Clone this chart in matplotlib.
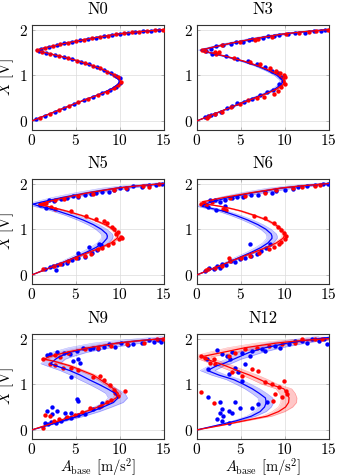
import numpy as np
import matplotlib
matplotlib.use("Agg")
import matplotlib.pyplot as plt

plt.rcParams['font.family'] = 'serif'
plt.rcParams['font.serif'] = ['cmr10', 'DejaVu Serif']
plt.rcParams['mathtext.fontset'] = 'cm'
plt.rcParams['axes.formatter.use_mathtext'] = True
plt.rcParams['axes.unicode_minus'] = False

# response amplitude grid [V], the curves give A_base for each X
X_GRID = [0.0, 0.1, 0.2, 0.3, 0.4, 0.5, 0.6, 0.7, 0.8, 0.85, 0.9, 1.0, 1.1, 1.2,
          1.3, 1.4, 1.45, 1.5, 1.55, 1.6, 1.7, 1.8, 1.9, 1.95, 2.0, 2.05]
# relative width of the uncertainty bands along the grid
BAND_PROFILE = [0, 0.2, 0.4, 0.6, 0.8, 0.9, 1, 1, 1, 1, 1, 1, 1, 1,
                1, 1, 1, 1, 1, 1.3, 1.8, 2.2, 2.5, 2.5, 2.5, 2.5]

TITLES = ['N0', 'N3', 'N5', 'N6', 'N9', 'N12']

# fitted curves A_base(X)
N0_BLUE = [0, 1.3, 2.6, 3.9, 5.2, 6.55, 7.9, 9.05, 9.8, 9.95, 9.9, 9.3, 8.3, 7.0,
           5.45, 3.55, 2.45, 1.35, 0.5, 1.5, 3.8, 6.5, 9.7, 12.0, 15.0, 18.0]
N0_RED = [0, 1.3, 2.6, 3.9, 5.2, 6.6, 8.0, 9.2, 9.95, 10.1, 10.05, 9.4, 8.4, 7.1,
          5.5, 3.6, 2.5, 1.4, 0.5, 1.5, 3.8, 6.5, 9.7, 12.0, 15.0, 18.0]
N3_BLUE = [0, 1.3, 2.6, 3.9, 5.15, 6.45, 7.8, 8.9, 9.6, 9.75, 9.7, 9.1, 8.1, 6.9,
           5.35, 3.5, 2.4, 1.3, 0.45, 1.45, 3.8, 6.5, 9.7, 12.0, 15.0, 18.0]
N3_RED = [0, 1.3, 2.6, 3.9, 5.2, 6.6, 7.95, 9.1, 9.85, 10.0, 9.95, 9.35, 8.35, 7.05,
          5.5, 3.6, 2.5, 1.4, 0.5, 1.5, 3.8, 6.5, 9.7, 12.0, 15.0, 18.0]
N5_BLUE = [0, 1.3, 2.6, 3.85, 5.05, 6.25, 7.3, 8.1, 8.55, 8.6, 8.5, 7.9, 7.0, 5.85,
           4.5, 2.9, 1.95, 0.9, 0.1, 1.2, 3.6, 6.4, 9.6, 12.0, 15.0, 18.0]
N5_RED = [0, 1.3, 2.6, 3.9, 5.2, 6.55, 7.9, 9.0, 9.7, 9.8, 9.75, 9.25, 8.35, 7.15,
          5.7, 3.9, 2.9, 1.8, 0.9, 1.7, 3.9, 6.5, 9.7, 12.0, 15.0, 18.0]
N6_BLUE = [0, 1.3, 2.6, 3.85, 5.05, 6.25, 7.3, 8.1, 8.55, 8.55, 8.45, 7.85, 6.95, 5.8,
           4.45, 2.9, 1.8, 0.6, 0.9, 1.7, 3.7, 6.4, 9.6, 12.0, 15.0, 18.0]
N6_RED = [0, 1.3, 2.6, 3.9, 5.2, 6.55, 7.9, 9.05, 9.8, 9.95, 9.95, 9.6, 8.95, 8.0,
          6.6, 5.0, 3.95, 2.7, 1.1, 0.6, 3.2, 6.2, 9.5, 11.9, 15.0, 18.0]
N9_BLUE = [0, 1.8, 3.6, 5.3, 6.8, 8.1, 9.3, 9.8, 9.5, 9.05, 8.6, 7.6, 6.5, 5.5,
           4.3, 2.8, 2.1, 2.4, 2.7, 3.1, 4.3, 6.6, 9.7, 12.0, 15.0, 18.0]
N9_RED = [0, 1.6, 3.1, 4.6, 6.1, 7.5, 8.7, 9.6, 9.85, 9.6, 9.3, 8.6, 7.8, 7.0,
          5.7, 4.4, 3.5, 2.6, 1.4, 1.9, 3.9, 6.5, 9.7, 12.0, 15.0, 18.0]
N12_BLUE = [0, 2.3, 4.5, 6.2, 7.2, 7.7, 7.9, 7.8, 7.1, 6.7, 6.3, 5.3, 4.2, 2.5,
            1.2, 2.2, 3.0, 3.6, 4.2, 4.8, 6.0, 7.8, 10.3, 12.0, 14.0, 16.0]
N12_RED = [0, 2.8, 5.4, 8.0, 9.3, 10.1, 10.45, 10.5, 10.3, 10.1, 9.9, 8.3, 7.2, 6.0,
           4.6, 3.3, 2.6, 1.8, 1.1, 0.45, 3.0, 5.5, 9.0, 11.5, 15.0, 19.0]

# band half widths [m/s^2] (blue, red)
BAND_HW = [(0.05, 0.05), (0.3, 0.1), (0.65, 0.25), (0.6, 0.25), (1.1, 0.35), (0.85, 0.9)]

# measured points (A_base, X)
N0_BLUE_PTS = [(0.4, 0.03), (1.5, 0.115), (2.6, 0.2), (3.7, 0.285), (4.8, 0.37), (5.9, 0.45),
               (7.0, 0.53), (8.0, 0.6), (8.9, 0.675), (9.6, 0.75), (10.0, 0.82),
               (10.0, 0.93), (9.6, 0.98), (9.0, 1.04), (8.2, 1.115), (7.4, 1.18), (6.5, 1.24),
               (5.6, 1.295), (4.6, 1.347), (3.6, 1.4), (2.6, 1.445), (1.6, 1.49), (0.8, 1.53),
               (1.0, 1.576), (1.9, 1.617), (2.8, 1.657), (3.7, 1.696), (4.6, 1.73), (5.5, 1.763),
               (6.4, 1.796), (7.3, 1.825), (8.2, 1.853), (9.1, 1.881), (10.0, 1.906),
               (10.9, 1.926), (11.8, 1.946), (12.7, 1.962), (13.6, 1.977), (14.5, 1.992)]
N0_RED_PTS = [(0.9, 0.07), (2.0, 0.155), (3.1, 0.24), (4.2, 0.323), (5.3, 0.407), (6.4, 0.486),
              (7.5, 0.565), (8.5, 0.64), (9.3, 0.71), (9.85, 0.78), (10.1, 0.86),
              (9.8, 0.955), (9.3, 1.01), (8.6, 1.08), (7.8, 1.15), (7.0, 1.205), (6.1, 1.262),
              (5.1, 1.32), (4.1, 1.374), (3.1, 1.423), (2.1, 1.467), (1.1, 1.51), (0.55, 1.545),
              (1.45, 1.598), (2.35, 1.637), (3.25, 1.676), (4.15, 1.713), (5.05, 1.746),
              (5.95, 1.78), (6.85, 1.81), (7.75, 1.839), (8.65, 1.867), (9.55, 1.895),
              (10.45, 1.916), (11.35, 1.936), (12.25, 1.954), (13.15, 1.969), (14.05, 1.984),
              (14.9, 1.998)]
N3_BLUE_PTS = [(1.6, 1.58), (2.2, 1.63), (3.0, 1.66), (3.9, 1.69), (4.4, 1.72), (5.2, 1.73),
               (5.9, 1.77), (6.3, 1.79), (7.5, 1.81), (8.1, 1.85), (8.8, 1.86), (9.4, 1.87),
               (10.4, 1.9), (11.2, 1.92), (12.3, 1.93), (13.3, 1.96), (14.1, 1.97), (14.6, 1.98),
               (1.0, 1.52), (1.7, 1.47), (2.1, 1.48), (3.3, 1.43), (4.6, 1.36), (5.8, 1.31),
               (6.8, 1.24), (7.7, 1.17), (8.6, 1.1), (9.2, 1.05), (9.6, 0.97),
               (9.3, 0.8), (8.7, 0.68), (8.0, 0.63), (7.2, 0.57), (6.3, 0.47), (5.4, 0.42),
               (4.6, 0.39), (4.0, 0.32), (3.4, 0.28), (2.7, 0.2), (2.1, 0.16), (1.6, 0.13),
               (0.9, 0.08), (1.3, 0.1)]
N3_RED_PTS = [(0.6, 1.56), (0.9, 1.53), (2.8, 1.66), (4.9, 1.72), (6.6, 1.78), (7.0, 1.8),
              (8.5, 1.84), (10.1, 1.9), (11.6, 1.93), (12.8, 1.94), (13.6, 1.96), (14.9, 1.99),
              (0.8, 1.55), (2.0, 1.5), (2.5, 1.5), (2.2, 1.46), (4.2, 1.38), (6.0, 1.3),
              (7.2, 1.24), (8.3, 1.16), (9.0, 1.09), (9.5, 1.05), (9.9, 1.0), (10.0, 0.95),
              (9.8, 0.88), (10.0, 0.8), (9.6, 0.75), (9.2, 0.66), (8.8, 0.58), (7.6, 0.53),
              (6.9, 0.5), (5.8, 0.45), (4.9, 0.36), (3.9, 0.3), (2.9, 0.2), (2.1, 0.15),
              (1.4, 0.1), (1.1, 0.06)]
N5_BLUE_PTS = [(1.9, 1.64), (2.5, 1.62), (3.3, 1.67), (4.0, 1.69), (4.7, 1.73), (5.2, 1.7),
               (6.0, 1.75), (6.7, 1.78), (7.3, 1.8), (8.0, 1.82), (8.8, 1.82), (9.3, 1.86),
               (10.0, 1.9), (10.8, 1.88), (11.5, 1.94), (12.5, 1.93), (13.3, 1.96), (14.2, 1.97),
               (14.8, 1.99), (0.9, 1.52), (1.6, 1.47), (6.45, 0.6), (5.3, 0.49), (7.6, 0.67),
               (1.5, 0.12), (2.0, 0.18), (2.4, 0.2), (2.9, 0.21), (2.7, 0.1), (3.4, 0.24),
               (4.0, 0.27), (4.6, 0.32), (5.2, 0.36), (6.0, 0.4), (6.8, 0.47), (7.4, 0.55),
               (7.9, 0.65)]
N5_RED_PTS = [(1.2, 1.56), (2.6, 1.63), (3.6, 1.66), (5.3, 1.72), (7.0, 1.78), (9.3, 1.85),
              (10.7, 1.9), (12.7, 1.94), (13.4, 1.92), (14.5, 1.98),
              (0.9, 1.55), (1.6, 1.58), (2.2, 1.48), (2.6, 1.45), (4.5, 1.4), (6.2, 1.3),
              (7.3, 1.23), (8.2, 1.18), (8.6, 1.13), (9.1, 1.05), (9.4, 1.0), (9.8, 0.95),
              (9.6, 0.9), (10.1, 0.83), (9.9, 0.78), (10.3, 0.8),
              (9.2, 0.7), (8.7, 0.66), (8.0, 0.58), (7.5, 0.57), (6.7, 0.46), (6.0, 0.42),
              (5.0, 0.37), (4.1, 0.3), (3.2, 0.24), (2.5, 0.2), (1.3, 0.12)]
N6_BLUE_PTS = [(1.5, 1.64), (2.0, 1.63), (2.6, 1.6), (3.2, 1.65), (4.0, 1.68), (4.6, 1.7),
               (5.3, 1.71), (6.2, 1.75), (7.0, 1.76), (7.8, 1.82), (8.5, 1.8), (9.0, 1.84),
               (10.0, 1.87), (11.0, 1.88), (11.5, 1.92), (12.5, 1.94), (13.5, 1.96),
               (14.4, 1.99), (14.9, 1.98), (1.3, 1.49), (2.2, 1.43), (3.2, 1.51), (6.1, 0.67),
               (0.9, 0.08), (1.4, 0.15), (1.9, 0.13), (2.3, 0.2), (2.6, 0.16), (2.8, 0.24),
               (3.3, 0.21), (3.9, 0.3), (4.3, 0.28), (4.9, 0.35), (5.5, 0.38), (6.2, 0.42),
               (6.8, 0.45), (7.3, 0.52), (7.9, 0.58), (8.3, 0.68)]
N6_RED_PTS = [(0.8, 1.57), (1.7, 1.6), (3.8, 1.69), (5.5, 1.73), (7.8, 1.8), (9.0, 1.86),
              (10.9, 1.91), (12.0, 1.92), (13.5, 1.94), (14.0, 1.97),
              (0.5, 1.55), (1.0, 1.52), (3.0, 1.45), (3.3, 1.42), (6.5, 1.28), (7.8, 1.25),
              (8.8, 1.13), (9.2, 1.05), (9.6, 0.99), (9.9, 0.92), (10.2, 0.85), (10.0, 0.78),
              (9.6, 0.73), (9.3, 0.67), (8.8, 0.62), (8.2, 0.56), (7.1, 0.48), (6.0, 0.42),
              (5.0, 0.38), (3.6, 0.36), (3.8, 0.3), (2.9, 0.2), (2.0, 0.15), (1.2, 0.12),
              (1.0, 0.1)]
N9_BLUE_PTS = [(1.7, 1.64), (2.1, 1.66), (2.8, 1.7), (3.6, 1.69), (4.3, 1.67), (5.1, 1.72),
               (5.8, 1.8), (6.6, 1.77), (7.0, 1.8), (7.5, 1.78), (8.2, 1.82), (8.8, 1.88),
               (9.5, 1.82), (10.2, 1.9), (10.9, 1.86), (11.5, 1.88), (12.5, 1.91), (13.3, 1.96),
               (13.9, 1.93), (14.4, 1.97), (14.7, 1.92), (4.7, 1.51), (5.2, 1.56), (5.5, 1.47),
               (4.5, 1.15), (1.7, 0.42), (2.25, 0.5), (2.25, 0.34), (2.8, 0.42), (3.8, 0.38),
               (4.5, 0.38), (5.1, 0.67), (5.3, 0.63), (1.5, 0.15), (1.8, 0.12), (2.2, 0.18),
               (2.7, 0.15), (3.3, 0.2), (3.9, 0.25), (4.5, 0.25), (5.2, 0.32), (6.0, 0.35),
               (7.0, 0.45), (7.6, 0.5), (8.0, 0.58)]
N9_RED_PTS = [(1.2, 1.55), (2.6, 1.65), (3.2, 1.6), (4.1, 1.69), (6.1, 1.78), (7.5, 1.8),
              (9.0, 1.84), (10.8, 1.88), (12.8, 1.9), (14.3, 1.99), (14.9, 1.98),
              (2.0, 1.45), (2.6, 1.42), (3.5, 1.36), (4.4, 1.35), (5.2, 1.32), (7.0, 1.15),
              (7.8, 1.18), (8.2, 1.1), (8.9, 0.98), (9.3, 0.88), (10.6, 0.85), (9.5, 0.8),
              (9.8, 0.75), (9.0, 0.65), (8.5, 0.6), (7.9, 0.52), (6.6, 0.47), (5.7, 0.4),
              (4.9, 0.33), (4.0, 0.28), (3.1, 0.24), (2.0, 0.3), (1.5, 0.32), (1.3, 0.05),
              (2.5, 0.2)]
N12_BLUE_PTS = [(2.25, 1.74), (1.1, 1.55), (1.3, 1.33), (1.3, 0.71), (2.8, 1.66), (3.4, 1.62),
                (3.8, 1.55), (4.35, 1.36), (3.6, 1.22), (5.1, 1.07), (2.6, 0.6), (2.8, 0.45),
                (2.6, 0.38), (3.6, 0.42), (4.0, 0.38), (4.35, 0.6), (4.9, 0.49), (7.0, 0.56),
                (6.3, 0.49), (2.25, 0.23), (2.8, 0.2), (3.6, 0.16), (5.1, 1.69), (6.3, 1.73),
                (7.4, 1.77), (8.9, 1.84), (10.5, 1.88), (11.2, 1.95), (12.0, 1.95), (13.1, 1.99),
                (13.9, 1.95), (14.5, 1.99), (14.85, 1.88), (5.5, 1.44), (4.7, 1.26), (8.0, 0.6),
                (4.0, 1.7), (6.0, 1.62), (7.8, 1.72), (9.5, 1.8), (12.6, 1.9), (3.0, 0.3)]
N12_RED_PTS = [(0.5, 1.62), (0.9, 1.58), (1.9, 1.55), (2.1, 1.44), (3.6, 1.62), (4.35, 1.69),
               (5.5, 1.77), (6.8, 1.8), (8.2, 1.84), (9.7, 1.88), (11.2, 1.91), (12.0, 1.99),
               (13.5, 1.99), (14.3, 2.0), (6.3, 1.33), (7.8, 1.04), (8.5, 1.0), (8.9, 0.78),
               (9.3, 0.93), (9.9, 1.07), (10.1, 0.85), (10.3, 0.78), (9.7, 0.71), (8.7, 0.64),
               (0.5, 0.82), (1.9, 0.58), (5.1, 1.18), (4.0, 1.26), (1.5, 1.47), (7.0, 1.3)]

CURVES = [(N0_BLUE, N0_RED), (N3_BLUE, N3_RED), (N5_BLUE, N5_RED),
          (N6_BLUE, N6_RED), (N9_BLUE, N9_RED), (N12_BLUE, N12_RED)]
POINTS = [(N0_BLUE_PTS, N0_RED_PTS), (N3_BLUE_PTS, N3_RED_PTS), (N5_BLUE_PTS, N5_RED_PTS),
          (N6_BLUE_PTS, N6_RED_PTS), (N9_BLUE_PTS, N9_RED_PTS), (N12_BLUE_PTS, N12_RED_PTS)]

W, H = 342, 476
fig = plt.figure(figsize=(W / 100, H / 100), dpi=100)

lefts = [32, 197]
tops = [25, 179, 334]
aw, ah = 131.5, 105

xg = np.array(X_GRID)
prof = np.array(BAND_PROFILE)

for i in range(6):
    r, c = divmod(i, 2)
    ax = fig.add_axes([lefts[c] / W, 1 - (tops[r] + ah) / H, aw / W, ah / H])
    blue_a, red_a = CURVES[i]
    hw_b, hw_r = BAND_HW[i]
    for a_vals, hw, col in [(blue_a, hw_b, 'blue'), (red_a, hw_r, 'red')]:
        a_vals = np.array(a_vals)
        lo = a_vals - hw * prof
        hi = a_vals + hw * prof
        ax.fill_betweenx(xg, lo, hi, color=col, alpha=0.22, lw=0, zorder=2)
        ax.plot(lo, xg, color=col, alpha=0.3, lw=0.4, zorder=2)
        ax.plot(hi, xg, color=col, alpha=0.3, lw=0.4, zorder=2)
    bp, rp = POINTS[i]
    ax.scatter([p[0] for p in bp], [p[1] for p in bp], s=10, color='blue', lw=0, zorder=3)
    ax.scatter([p[0] for p in rp], [p[1] for p in rp], s=10, color='red', lw=0, zorder=3)
    ax.plot(blue_a, X_GRID, color='blue', lw=0.9, zorder=4)
    ax.plot(red_a, X_GRID, color='red', lw=0.9, zorder=4)

    ax.set_xlim(0, 15)
    ax.set_ylim(-0.2, 2.1)
    ax.set_xticks([0, 5, 10, 15])
    ax.set_yticks([0, 1, 2])
    ax.grid(True, color='#dcdcdc', lw=0.5, zorder=0)
    ax.set_axisbelow(True)
    ax.tick_params(direction='in', length=2.5, width=0.5, color='#a0a0a0',
                   top=True, right=True, labelsize=11)
    ax.tick_params(axis='x', pad=2)
    ax.tick_params(axis='y', pad=3)
    for s in ax.spines.values():
        s.set_linewidth(0.8)
        s.set_color('#333333')
    ax.set_title(TITLES[i], fontsize=12, pad=8)
    if c == 0:
        ax.set_ylabel(r'$X$ [V]', fontsize=11)
        ax.yaxis.set_label_coords(-0.125, 0.5)
    if r == 2:
        ax.set_xlabel(r'$A_{\mathrm{base}}$ [m/s$^2$]', fontsize=10.5)
        ax.xaxis.set_label_coords(0.5, -0.165)

fig.savefig('out.png', dpi=100)
